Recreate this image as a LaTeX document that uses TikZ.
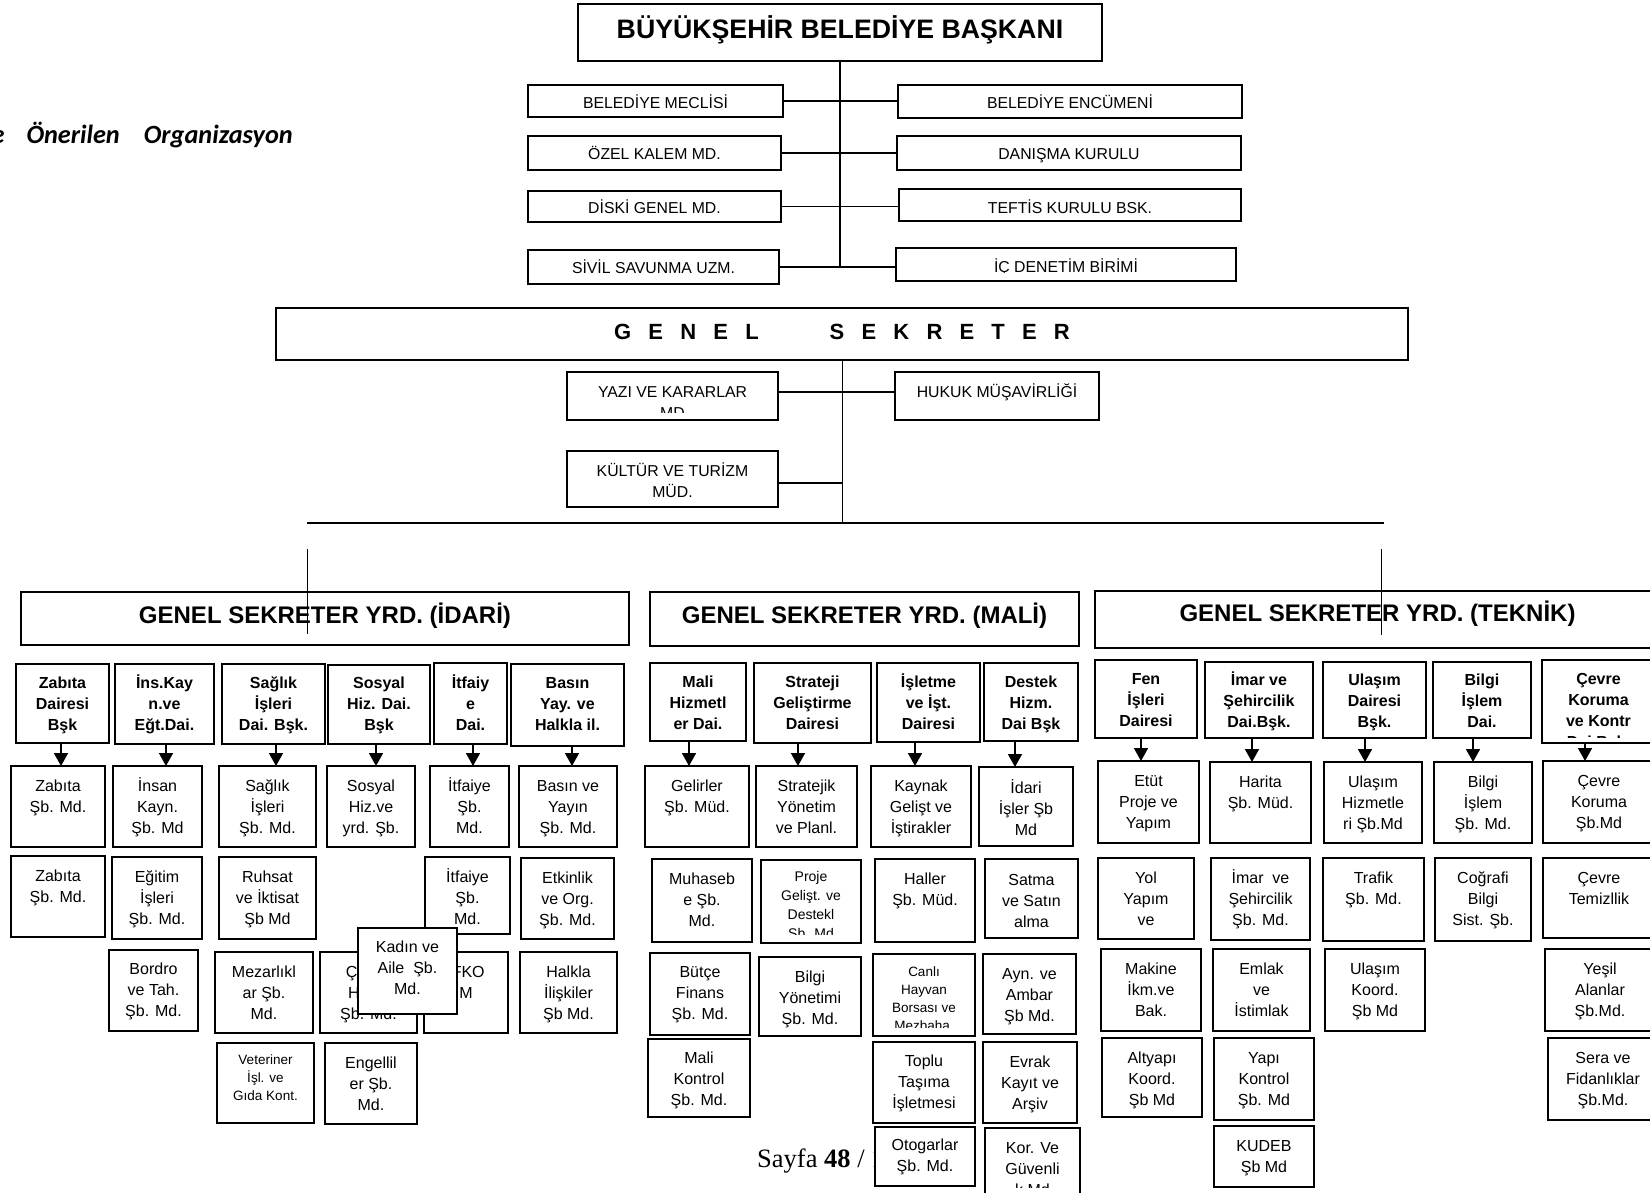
\documentclass[tikz,border=0pt]{standalone}
\usepackage{fontspec}
\setmainfont{Liberation Sans}
\newfontfamily\calfont{Carlito}
\newfontfamily\timesfont{Liberation Serif}
\usetikzlibrary{arrows.meta}
\newcommand{\ML}[1]{\begin{tabular}[t]{@{}c@{}}#1\end{tabular}}
\newcommand{\BX}[8][]{%
  \node[bx,minimum width={#5pt-#3pt},minimum height={#6pt-#4pt}] (#2) at ({(#3+#5)/2},{(#4+#6)/2}) {};
  \node[tx,#1,anchor=base] (#2t) at ({(#3+#5)/2},{#4+#7}) {\ML{#8}};}
\newcommand{\BXC}[9][]{%
  \node[bx,minimum width={#5pt-#3pt},minimum height={#6pt-#4pt}] (#2) at ({(#3+#5)/2},{(#4+#6)/2}) {};
  \begin{scope}
  \clip (#3,#4) rectangle (#5,#8);
  \node[tx,#1,anchor=base] (#2t) at ({(#3+#5)/2},{#4+#7}) {\ML{#9}};
  \end{scope}}
\tikzset{
  bx/.style={draw, line width=1.5pt, fill=white, inner sep=0pt, outer sep=0pt},
  tx/.style={inner sep=0pt, font=\fontsize{16}{21}\selectfont},
  hd/.style={font=\fontsize{16}{21}\selectfont\bfseries},
  sm/.style={font=\fontsize{13.5}{18}\selectfont},
  smp/.style={font=\fontsize{14}{19}\selectfont},
  up/.style={font=\fontsize{15.8}{21}\selectfont},
  topf/.style={font=\fontsize{26.7}{30}\selectfont\bfseries},
  gsf/.style={font=\fontsize{22}{26}\selectfont\bfseries},
  yrdf/.style={font=\fontsize{24}{28}\selectfont\bfseries},
  cn/.style={line width=1.8pt},
  thn/.style={line width=1pt},
  arr/.style={line width=1.6pt,-{Triangle[width=14pt,length=13pt]}}
}
\begin{document}
\begin{tikzpicture}[x=1pt,y=-1pt]
\useasboundingbox (0,0) rectangle (1650,1192);
\fill[white] (0,0) rectangle (1650,1192);

% title
\node[font=\calfont\bfseries\itshape\fontsize{26.3}{30}\selectfont,anchor=base east,inner sep=0pt] (title) at (293,143) {e\hspace{22pt}Önerilen\hspace{24pt}Organizasyon};

% top part
\BX[topf]{bb}{578}{4}{1102}{61}{34.3}{BÜYÜKŞEHİR BELEDİYE BAŞKANI}
\BX[up]{m1}{528}{85}{783}{117}{23.5}{BELEDİYE MECLİSİ}
\BX[up]{m2}{528}{136}{781}{170}{23.5}{ÖZEL KALEM MD.}
\BX[up]{m3}{528}{191}{781}{222}{22.5}{DİSKİ GENEL MD.}
\BX[up]{m4}{528}{250}{779}{284}{23.5}{SİVİL SAVUNMA UZM.}
\BX[up]{r1}{898}{85}{1242}{118}{23.5}{BELEDİYE ENCÜMENİ}
\BX[up]{r2}{897}{136}{1241}{170}{23.5}{DANIŞMA KURULU}
\BX[up]{r3}{899}{189}{1241}{221}{24.5}{TEFTİS KURULU BSK.}
\BXC[up]{r4}{896}{248}{1236}{281}{24.5}{272}{İÇ DENETİM BİRİMİ}
\draw[cn] (bb.south) -- (bb.south |- m4.east);
\draw[cn] (m1.east) -- (m1.east -| r1.west);
\draw[cn] (m2.east) -- (m2.east -| r2.west);
\draw[cn] (m3.east) -- (m3.east -| r3.west);
\draw[cn] (m4.east) -- (m4.east -| r4.west);

% genel sekreter
\BX[gsf]{gs}{276}{308}{1408}{360}{31.9}{\spaceskip=17.2pt\relax G E N E L\hspace{71pt}S E K R E T E R}
\BXC[up]{ya}{567}{372}{778}{420}{25.5}{412}{YAZI VE KARARLAR\\MD}
\BX[up]{hk}{895}{372}{1099}{420}{25.5}{HUKUK MÜŞAVİRLİĞİ}
\BX[up]{ku}{567}{451}{778}{507}{25.5}{KÜLTÜR VE TURİZM\\MÜD.}
\coordinate (hl) at (307,523);
\coordinate (hr) at (1384,523);
\draw[thn] (gs.south) -- (gs.south |- hl);
\draw[cn] ([yshift=4pt]ya.east) -- ([yshift=4pt]ya.east -| hk.west);
\draw[cn] ([yshift=-4pt]ku.east) -- ([yshift=-4pt]ku.east -| gs.south);
\draw[line width=1.7pt] (hl) -- (hr);

% yardimcilar
\BX[yrdf]{gsi}{21}{592}{629}{645}{31.6}{GENEL SEKRETER YRD. (İDARİ)}
\BX[yrdf]{gsm}{650}{592}{1079}{646}{31.6}{GENEL SEKRETER YRD. (MALİ)}
\BX[yrdf]{gst}{1095}{591}{1660}{648}{30.6}{GENEL SEKRETER YRD. (TEKNİK)}
\coordinate (la1) at (307,549);
\coordinate (la2) at (307,634);
\coordinate (lb1) at (1381,549);
\coordinate (lb2) at (1381,635);
\draw[thn] (la1) -- (la2);
\draw[thn] (lb1) -- (lb2);

% IDARI
\BX[hd]{hi1}{16}{664}{109}{743}{24}{Zabıta\\Dairesi\\Bşk}
\BX[hd]{hi2}{115}{664}{214}{744}{24}{İns.Kay\\n.ve\\Eğt.Dai.}
\BX[hd]{hi3}{222}{664}{325}{744}{24}{Sağlık\\İşleri\\Dai. Bşk.}
\BX[hd]{hi4}{328}{665}{430}{744}{23}{Sosyal\\Hiz. Dai.\\Bşk}
\BX[hd]{hi5}{434}{663}{507}{744}{25}{İtfaiy\\e\\Dai.}
\BX[hd]{hi6}{511}{664}{624}{746}{24}{Basın\\Yay. ve\\Halkla il.}
\BX{ci1a}{11}{766}{105}{847}{25}{Zabıta\\Şb. Md.}
\BX{ci2a}{113}{766}{202}{847}{25}{İnsan\\Kayn.\\Şb. Md}
\BX{ci3a}{219}{766}{316}{847}{25}{Sağlık\\İşleri\\Şb. Md.}
\BX{ci4a}{327}{766}{415}{847}{25}{Sosyal\\Hiz.ve\\yrd. Şb.}
\BX{ci5a}{430}{766}{509}{847}{25}{İtfaiye\\Şb.\\Md.}
\BX{ci6a}{519}{766}{617}{847}{25}{Basın ve\\Yayın\\Şb. Md.}
\BX{ci1b}{11}{856}{105}{937}{25}{Zabıta\\Şb. Md.}
\BX{ci2b}{112}{857}{202}{939}{25}{Eğitim\\İşleri\\Şb. Md.}
\BX{ci3b}{219}{857}{316}{939}{25}{Ruhsat\\ve İktisat\\Şb Md}
\BX{ci5b}{425}{857}{510}{934}{25}{İtfaiye\\Şb.\\Md.}
\BX{ci6b}{521}{858}{614}{939}{25}{Etkinlik\\ve Org.\\Şb. Md.}
\BX{ci2c}{109}{950}{198}{1031}{24}{Bordro\\ve Tah.\\Şb. Md.}
\BX{ci3c}{215}{952}{313}{1033}{25}{Mezarlıkl\\ar Şb.\\Md.}
\BX{ci4c}{320}{952}{417}{1033}{25}{Çocuk\\Hizm.\\Şb. Md.}
\BX{ci5c}{424}{952}{508}{1033}{25}{İFKO\\M}
\BX{ci6c}{520}{952}{617}{1033}{25}{Halkla\\İlişkiler\\Şb Md.}
\BX{ci4k}{358}{928}{457}{1014}{24}{Kadın ve\\Aile~ Şb.\\Md.}
\BX[sm]{ci3d}{217}{1043}{314}{1123}{21}{Veteriner\\İşl. ve\\Gıda Kont.}
\BX{ci4d}{325}{1043}{417}{1124}{25}{Engellil\\er Şb.\\Md.}
\draw[arr] ([xshift=-1.5pt]hi1.south) -- ([xshift=-1.5pt]hi1.south |- ci1a.north);
\draw[arr] ([xshift=1.5pt]hi2.south) -- ([xshift=1.5pt]hi2.south |- ci2a.north);
\draw[arr] ([xshift=2.5pt]hi3.south) -- ([xshift=2.5pt]hi3.south |- ci3a.north);
\draw[arr] ([xshift=-3pt]hi4.south) -- ([xshift=-3pt]hi4.south |- ci4a.north);
\draw[arr] ([xshift=2.5pt]hi5.south) -- ([xshift=2.5pt]hi5.south |- ci5a.north);
\draw[arr] ([xshift=4.5pt]hi6.south) -- ([xshift=4.5pt]hi6.south |- ci6a.north);

% MALI
\BX[hd]{hm1}{650}{663}{746}{741}{24}{Mali\\Hizmetl\\er Dai.}
\BX[hd]{hm2}{754}{663}{871}{743}{24}{Strateji\\Geliştirme\\Dairesi}
\BX[hd]{hm3}{877}{663}{980}{742}{24}{İşletme\\ve İşt.\\Dairesi}
\BX[hd]{hm4}{984}{663}{1078}{741}{24}{Destek\\Hizm.\\Dai Bşk}
\BX{cm1a}{645}{766}{749}{847}{25}{Gelirler\\Şb. Müd.}
\BX{cm2a}{756}{766}{857}{847}{25}{Stratejik\\Yönetim\\ve Planl.}
\BX{cm3a}{871}{766}{971}{847}{25}{Kaynak\\Gelişt ve\\İştirakler}
\BX{cm4a}{979}{767}{1073}{846}{26}{İdari\\İşler Şb\\Md}
\BX{cm1b}{652}{859}{752}{942}{25}{Muhaseb\\e Şb.\\Md.}
\BXC[smp]{cm2b}{761}{860}{861}{943}{21}{934}{Proje\\Gelişt. ve\\Destekl\\Şb. Md}
\BX{cm3b}{875}{859}{975}{942}{25}{Haller\\Şb. Müd.}
\BX{cm4b}{985}{859}{1078}{938}{26}{Satma\\ve Satın\\alma}
\BX{cm1c}{650}{953}{750}{1035}{24}{Bütçe\\Finans\\Şb. Md.}
\BX{cm2c}{759}{957}{861}{1036}{25}{Bilgi\\Yönetimi\\Şb. Md.}
\BXC[sm]{cm3c}{873}{954}{975}{1036}{22}{1027}{Canlı\\Hayvan\\Borsası ve\\Mezbaha.}
\BX{cm4c}{983}{954}{1076}{1034}{25}{Ayn. ve\\Ambar\\Şb Md.}
\BX{cm1d}{648}{1039}{750}{1117}{24}{Mali\\Kontrol\\Şb. Md.}
\BX{cm3d}{873}{1042}{975}{1123}{24}{Toplu\\Taşıma\\İşletmesi}
\BX{cm4d}{983}{1042}{1077}{1123}{25}{Evrak\\Kayıt ve\\Arşiv}
\node[font=\timesfont\fontsize{26.5}{30}\selectfont,anchor=base west,inner sep=0pt] (pg) at (757,1167) {Sayfa \textbf{48} / 1};
\BX{cm3e}{875}{1127}{975}{1186}{23}{Otogarlar\\Şb. Md.}
\BXC{cm4e}{985}{1128}{1080}{1210}{25}{1187}{Kor. Ve\\Güvenli\\k Md}
\draw[arr] ([xshift=-9pt]hm1.south) -- ([xshift=-9pt]hm1.south |- cm1a.north);
\draw[arr] ([xshift=-14.5pt]hm2.south) -- ([xshift=-14.5pt]hm2.south |- cm2a.north);
\draw[arr] ([xshift=-13.5pt]hm3.south) -- ([xshift=-13.5pt]hm3.south |- cm3a.north);
\draw[arr] ([xshift=-16pt]hm4.south) -- ([xshift=-16pt]hm4.south |- cm4a.north);

% TEKNIK
\BX[hd]{ht1}{1095}{660}{1197}{738}{24}{Fen\\İşleri\\Dairesi}
\BX[hd]{ht2}{1205}{662}{1313}{738}{23}{İmar ve\\Şehircilik\\Dai.Bşk.}
\BX[hd]{ht3}{1323}{662}{1426}{738}{23}{Ulaşım\\Dairesi\\Bşk.}
\BX[hd]{ht4}{1433}{662}{1531}{738}{23}{Bilgi\\İşlem\\Dai.}
\BXC[hd]{ht5}{1542}{660}{1655}{743}{24}{737}{Çevre\\Koruma\\ve Kontr\\Dai.Bşk.}
\BX{ct1a}{1098}{761}{1199}{843}{25}{Etüt\\Proje ve\\Yapım}
\BX{ct2a}{1210}{762}{1311}{843}{25}{Harita\\Şb. Müd.}
\BX{ct3a}{1324}{762}{1422}{843}{25}{Ulaşım\\Hizmetle\\ri Şb.Md}
\BX{ct4a}{1434}{762}{1532}{843}{25}{Bilgi\\İşlem\\Şb. Md.}
\BX{ct5a}{1543}{761}{1655}{843}{25}{Çevre\\Koruma\\Şb.Md}
\BX{ct1b}{1098}{858}{1194}{939}{25}{Yol\\Yapım\\ve}
\BX{ct2b}{1211}{858}{1310}{940}{25}{İmar~ ve\\Şehircilik\\Şb. Md.}
\BX{ct3b}{1323}{858}{1424}{941}{25}{Trafik\\Şb. Md.}
\BX{ct4b}{1435}{858}{1531}{941}{25}{Coğrafi\\Bilgi\\Sist. Şb.}
\BX{ct5b}{1543}{858}{1655}{938}{25}{Çevre\\Temizllik}
\BX{ct1c}{1101}{949}{1201}{1031}{25}{Makine\\İkm.ve\\Bak.}
\BX{ct2c}{1213}{949}{1310}{1031}{25}{Emlak\\ve\\İstimlak}
\BX{ct3c}{1325}{949}{1425}{1031}{25}{Ulaşım\\Koord.\\Şb Md}
\BX{ct5c}{1545}{949}{1655}{1031}{25}{Yeşil\\Alanlar\\Şb.Md.}
\BX{ct1d}{1102}{1038}{1202}{1117}{25}{Altyapı\\Koord.\\Şb Md}
\BX{ct2d}{1214}{1038}{1314}{1120}{25}{Yapı\\Kontrol\\Şb. Md}
\BX{ct5d}{1548}{1038}{1658}{1120}{25}{Sera ve\\Fidanlıklar\\Şb.Md.}
\BX{ct2e}{1214}{1126}{1314}{1187}{25}{KUDEB\\Şb Md}
\draw[arr] ([xshift=-5pt]ht1.south) -- ([xshift=-5pt]ht1.south |- ct1a.north);
\draw[arr] ([xshift=-7pt]ht2.south) -- ([xshift=-7pt]ht2.south |- ct2a.north);
\draw[arr] ([xshift=-9.5pt]ht3.south) -- ([xshift=-9.5pt]ht3.south |- ct3a.north);
\draw[arr] ([xshift=-9pt]ht4.south) -- ([xshift=-9pt]ht4.south |- ct4a.north);
\draw[arr] ([xshift=-13.5pt]ht5.south) -- ([xshift=-13.5pt]ht5.south |- ct5a.north);
\end{tikzpicture}
\end{document}
